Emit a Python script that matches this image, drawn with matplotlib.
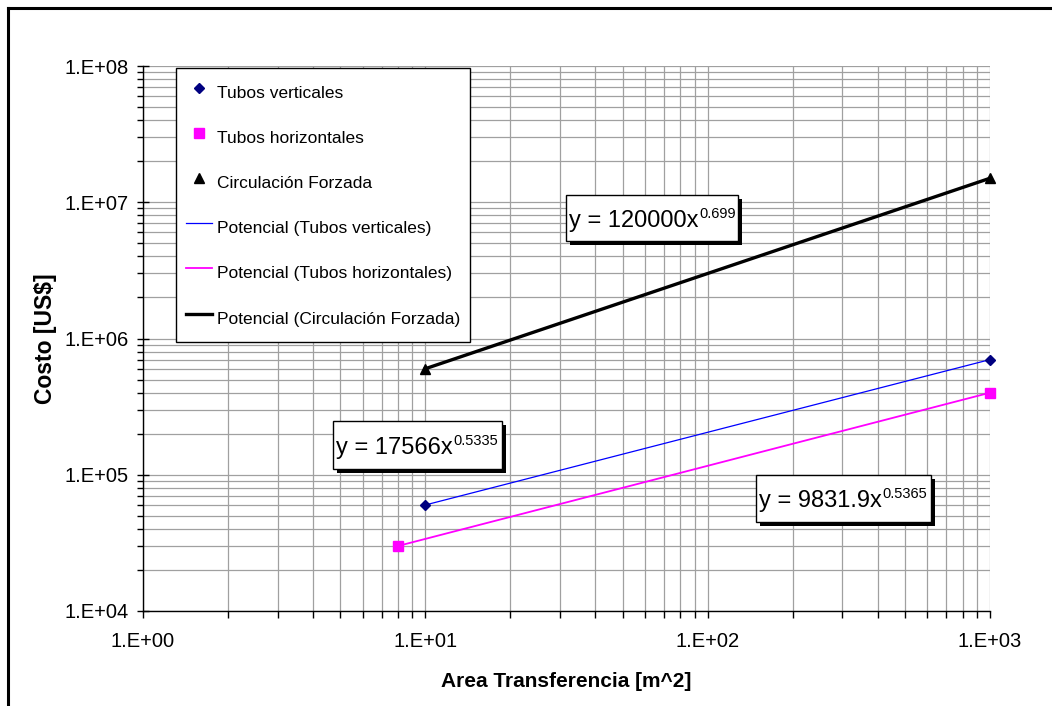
import numpy as np
import matplotlib
matplotlib.use("Agg")
import matplotlib.pyplot as plt
from matplotlib.lines import Line2D
from matplotlib.patches import Rectangle
from matplotlib import patheffects as pe

plt.rcParams['font.family'] = ['Liberation Sans', 'DejaVu Sans']

# ---- data ----
vert_x = [10, 1000]
vert_y = [6.0e4, 7.0e5]
hor_x = [8, 1000]
hor_y = [3.0e4, 4.0e5]
forz_x = [10, 1000]
forz_y = [6.0e5, 1.5e7]

# power-law trendline coefficients (as shown on chart)
vert_fit = (17566, 0.5335)
hor_fit = (9831.9, 0.5365)
forz_fit = (120000, 0.699)

labels_pts = ["Tubos verticales", "Tubos horizontales", "Circulación Forzada"]
labels_fit = ["Potencial (Tubos verticales)", "Potencial (Tubos horizontales)",
              "Potencial (Circulación Forzada)"]
eq_main = ["y = 120000x", "y = 17566x", "y = 9831.9x"]
eq_sup = ["0.699", "0.5335", "0.5365"]

xticks = [1, 10, 100, 1000]
xticklabels = ["1.E+00", "1.E+01", "1.E+02", "1.E+03"]
yticks = [1e4, 1e5, 1e6, 1e7, 1e8]
yticklabels = ["1.E+04", "1.E+05", "1.E+06", "1.E+07", "1.E+08"]

# ---- figure ----
W, H = 1052, 706
fig = plt.figure(figsize=(W / 100, H / 100), dpi=100)
AX_L, AX_R, AX_T, AX_B = 143, 990, 66, 611
ax = fig.add_axes([AX_L / W, 1 - AX_B / H, (AX_R - AX_L) / W, (AX_B - AX_T) / H])

def px2ax(x, y):
    return (x - AX_L) / (AX_R - AX_L), (AX_B - y) / (AX_B - AX_T)

ax.set_xscale('log')
ax.set_yscale('log')
ax.set_xlim(1, 1000)
ax.set_ylim(1e4, 1e8)

grid_c = '#a0a0a0'
ax.grid(True, which='both', color=grid_c, linewidth=0.9)
ax.set_axisbelow(True)

def fit_line(xs, coef):
    a, b = coef
    xx = np.array([min(xs), max(xs)], dtype=float)
    return xx, a * xx ** b

# trend lines
x1, y1 = fit_line(vert_x, vert_fit)
x2, y2 = fit_line(hor_x, hor_fit)
x3, y3 = fit_line(forz_x, forz_fit)
l1, = ax.plot(x1, y1, color='#0000ff', lw=0.9, label=labels_fit[0], zorder=3)
l2, = ax.plot(x2, y2, color='#ff00ff', lw=1.3, label=labels_fit[1], zorder=3)
l3, = ax.plot(x3, y3, color='black', lw=2.4, label=labels_fit[2], zorder=3)

# markers
m1, = ax.plot(vert_x, vert_y, ls='none', marker='D', ms=5, color='#000080',
              label=labels_pts[0], zorder=4, clip_on=False)
m2, = ax.plot(hor_x, hor_y, ls='none', marker='s', ms=7, color='#ff00ff',
              label=labels_pts[1], zorder=4, clip_on=False)
m3, = ax.plot(forz_x, forz_y, ls='none', marker='^', ms=7.5, color='black',
              label=labels_pts[2], zorder=4, clip_on=False)

# axes styling
for s in ['top', 'right']:
    ax.spines[s].set_visible(False)
for s in ['left', 'bottom']:
    ax.spines[s].set_color('black')
    ax.spines[s].set_linewidth(1.0)

ax.set_xticks(xticks)
ax.set_xticklabels(xticklabels)
ax.set_yticks(yticks)
ax.set_yticklabels(yticklabels)
ax.tick_params(axis='y', which='major', direction='inout', length=9, width=1,
               labelsize=14.5, pad=5.5)
ax.tick_params(axis='y', which='minor', direction='out', length=4, width=1)
ax.tick_params(axis='x', which='major', direction='out', length=5, width=1,
               labelsize=14.5, pad=10)
ax.tick_params(axis='x', which='minor', direction='out', length=5, width=1)
ax.yaxis.set_minor_formatter(matplotlib.ticker.NullFormatter())
ax.xaxis.set_minor_formatter(matplotlib.ticker.NullFormatter())

ax.set_xlabel("Area Transferencia [m^2]", fontsize=15, fontweight='bold', labelpad=15)
ax.set_ylabel("Costo [US$]", fontsize=16.5, fontweight='bold', labelpad=6)

# legend
leg = ax.legend(handles=[m1, m2, m3, l1, l2, l3], loc='upper left',
                bbox_to_anchor=px2ax(176, 68),
                borderaxespad=0, fontsize=12.5, frameon=True, fancybox=False,
                framealpha=1, edgecolor='black', borderpad=0.55,
                handleheight=2.2, labelspacing=0.93, handlelength=1.5,
                handletextpad=0.3)
leg.get_frame().set_linewidth(1.0)

# equation boxes (pixel extents of each box)
eq_boxes = [(566, 738, 195, 241), (333, 502, 421, 469), (756, 931, 475, 522)]
shadow = [pe.SimplePatchShadow(offset=(3, -3), shadow_rgbFace='black', alpha=1.0),
          pe.Normal()]
for main, sup, (bl, br, bt, bb) in zip(eq_main, eq_sup, eq_boxes):
    x0, y0 = px2ax(bl, bb)
    x1b, y1b = px2ax(br, bt)
    rect = Rectangle((x0, y0), x1b - x0, y1b - y0, transform=ax.transAxes,
                     facecolor='white', edgecolor='black', linewidth=1.0,
                     zorder=6, clip_on=False)
    rect.set_path_effects(shadow)
    ax.add_patch(rect)
    tx, ty = px2ax(bl + 3, (bt + bb) / 2 + 3)
    t = ax.text(tx, ty, main, transform=ax.transAxes, ha='left', va='center',
                fontsize=17, zorder=7)
    ax.annotate(sup, xy=(1, 1), xycoords=t, xytext=(0.5, 2.5),
                textcoords='offset points', ha='left', va='top',
                fontsize=10.5, zorder=7)

# outer border (left and top edges visible)
fig.add_artist(Line2D([8 / W, 8 / W], [0, 1 - 8 / H], color='black', lw=2.2,
                      transform=fig.transFigure))
fig.add_artist(Line2D([8 / W, 1], [1 - 8 / H, 1 - 8 / H], color='black', lw=2.2,
                      transform=fig.transFigure))

fig.savefig("out.png", dpi=100)
